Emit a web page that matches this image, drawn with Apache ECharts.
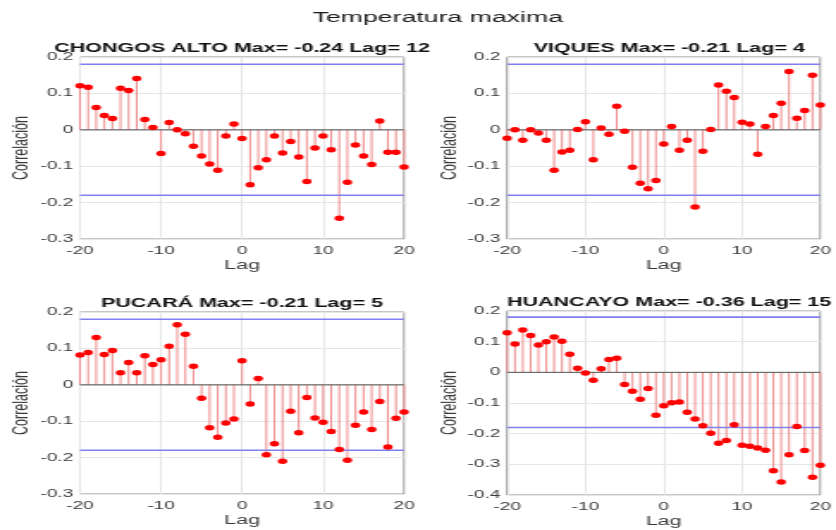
<!DOCTYPE html>
<html>
<head>
<meta charset="utf-8">
<script src="https://cdn.jsdelivr.net/npm/echarts@6/dist/echarts.min.js"></script>
<style>
    html, body { margin: 0; padding: 0; background: #fff; overflow: hidden; }
    /* the reference is a MATLAB figure stretched sideways, so draw narrow and widen */
    #main { width: 486px; height: 530px; transform: scaleX(1.7202); transform-origin: 0 0; }
</style>
</head>
<body>
<div id="main"></div>
<script>
    const lags = [-20, -19, -18, -17, -16, -15, -14, -13, -12, -11,
        -10, -9, -8, -7, -6, -5, -4, -3, -2, -1,
        0, 1, 2, 3, 4, 5, 6, 7, 8, 9, 10,
        11, 12, 13, 14, 15, 16, 17, 18, 19, 20];

    const chongosAlto = [0.121, 0.117, 0.061, 0.039, 0.031, 0.114, 0.108, 0.141, 0.028, 0.006,
        -0.065, 0.020, 0.000, -0.011, -0.045, -0.072, -0.094, -0.111, -0.017, 0.016,
        -0.024, -0.151, -0.104, -0.082, -0.017, -0.064, -0.032, -0.075, -0.142, -0.050, -0.017,
        -0.055, -0.243, -0.144, -0.042, -0.072, -0.095, 0.024, -0.062, -0.062, -0.102];

    const viques = [-0.023, 0.000, -0.029, 0.000, -0.009, -0.029, -0.111, -0.061, -0.056, 0.001,
        0.022, -0.082, 0.005, -0.012, 0.065, -0.004, -0.103, -0.147, -0.162, -0.139,
        -0.039, 0.009, -0.056, -0.029, -0.212, -0.059, 0.001, 0.123, 0.106, 0.089, 0.021,
        0.016, -0.067, 0.009, 0.039, 0.073, 0.160, 0.032, 0.053, 0.150, 0.068];

    const pucara = [0.082, 0.089, 0.130, 0.083, 0.094, 0.033, 0.061, 0.033, 0.080, 0.056,
        0.069, 0.106, 0.165, 0.139, 0.051, -0.037, -0.118, -0.144, -0.105, -0.094,
        0.066, -0.053, 0.017, -0.192, -0.162, -0.210, -0.073, -0.132, -0.035, -0.091, -0.103,
        -0.128, -0.178, -0.207, -0.111, -0.075, -0.123, -0.046, -0.171, -0.092, -0.075];

    const huancayo = [0.129, 0.092, 0.138, 0.120, 0.089, 0.100, 0.115, 0.101, 0.059, 0.013,
        -0.002, -0.026, 0.012, 0.042, 0.046, -0.040, -0.062, -0.088, -0.053, -0.140,
        -0.109, -0.099, -0.097, -0.130, -0.152, -0.174, -0.199, -0.231, -0.222, -0.171, -0.238,
        -0.241, -0.247, -0.254, -0.321, -0.358, -0.269, -0.177, -0.255, -0.342, -0.303];

    const confBounds = [0.18, -0.18];
    const mainTitle = "Temperatura maxima";
    const panelTitles = [
        "CHONGOS ALTO Max= -0.24 Lag= 12",
        "VIQUES Max= -0.21 Lag= 4",
        "PUCARÁ Max= -0.21 Lag= 5",
        "HUANCAYO Max= -0.36 Lag= 15"
    ];
    const panelData = [chongosAlto, viques, pucara, huancayo];
    const yMin = [-0.3, -0.3, -0.3, -0.4];
    const yMax = [0.2, 0.2, 0.2, 0.2];
    const xTicks = { min: -20, max: 20, step: 10 };
    const yStep = 0.1;

    // panel boxes (in unstretched pixels)
    const boxes = [
        { left: 46.5, top: 57, width: 188.4, height: 182 },
        { left: 294.8, top: 57, width: 188.4, height: 182 },
        { left: 46.5, top: 312, width: 188.4, height: 182 },
        { left: 294.8, top: 311, width: 188.4, height: 184 }
    ];

    const font = "Arial, 'Liberation Sans', Helvetica, sans-serif";
    const labelColor = "#3a3a3a";

    const chartDom = document.getElementById('main');
    const myChart = echarts.init(chartDom, null, { renderer: 'canvas' });

    const grid = [], xAxis = [], yAxis = [], series = [], graphic = [];

    // horizontal reference line across the whole lag range
    function hline(i, value, color, width, z) {
        return {
            type: 'line', xAxisIndex: i, yAxisIndex: i,
            data: [[xTicks.min, value], [xTicks.max, value]],
            showSymbol: false, silent: true, animation: false, z: z,
            lineStyle: { color: color, width: width, type: 'solid' },
            itemStyle: { color: color }
        };
    }

    graphic.push({
        type: 'text', x: 254.5, y: 18, silent: true,
        style: {
            text: mainTitle, fill: '#1a1a1a', font: "15.5px " + font,
            textAlign: 'center', textVerticalAlign: 'middle'
        }
    });

    boxes.forEach(function (box, i) {
        grid.push({
            left: box.left, top: box.top, width: box.width, height: box.height,
            show: true, borderColor: '#8f8f8f', borderWidth: 1, backgroundColor: '#fff',
            containLabel: false
        });

        xAxis.push({
            type: 'value', gridIndex: i,
            min: xTicks.min, max: xTicks.max, interval: xTicks.step,
            name: 'Lag', nameLocation: 'middle', nameGap: 20,
            nameTextStyle: { color: labelColor, fontSize: 12.5, fontFamily: font },
            axisLine: { show: false, onZero: false },
            axisTick: { show: false },
            axisLabel: { color: labelColor, fontSize: 11, fontFamily: font, margin: 6 },
            splitLine: { show: true, lineStyle: { color: '#e6e6e6', width: 1 } }
        });

        yAxis.push({
            type: 'value', gridIndex: i,
            min: yMin[i], max: yMax[i], interval: yStep,
            name: 'Correlación', nameLocation: 'middle', nameGap: 27,
            nameTextStyle: { color: labelColor, fontSize: 12.5, fontFamily: font },
            axisLine: { show: false },
            axisTick: { show: false },
            axisLabel: {
                color: labelColor, fontSize: 11, fontFamily: font, margin: 4,
                formatter: v => String(Math.round(v * 10) / 10)
            },
            splitLine: { show: true, lineStyle: { color: '#e6e6e6', width: 1 } }
        });

        const points = lags.map((lag, k) => [lag, panelData[i][k]]);

        // stems
        series.push({
            type: 'bar', xAxisIndex: i, yAxisIndex: i,
            barWidth: 1, silent: true, animation: false,
            itemStyle: { color: '#ef8d8d' },
            data: points, z: 2
        });

        // baseline and confidence bounds
        series.push(hline(i, 0, '#555555', 1, 3));
        confBounds.forEach(b => series.push(hline(i, b, '#8080ee', 1.6, 3)));

        // stem heads
        series.push({
            type: 'scatter', xAxisIndex: i, yAxisIndex: i,
            symbol: 'circle', symbolSize: 5.5, silent: true, animation: false,
            itemStyle: { color: '#ff0000', opacity: 1 },
            data: points, z: 4
        });

        graphic.push({
            type: 'text', x: box.left + box.width / 2, y: box.top - 8, silent: true,
            style: {
                text: panelTitles[i], fill: '#111', font: "bold 12.5px " + font,
                textAlign: 'center', textVerticalAlign: 'middle'
            }
        });
    });

    const option = {
        animation: false,
        backgroundColor: '#fff',
        grid: grid,
        xAxis: xAxis,
        yAxis: yAxis,
        series: series,
        graphic: graphic
    };

    option && myChart.setOption(option);
</script>
</body>
</html>
